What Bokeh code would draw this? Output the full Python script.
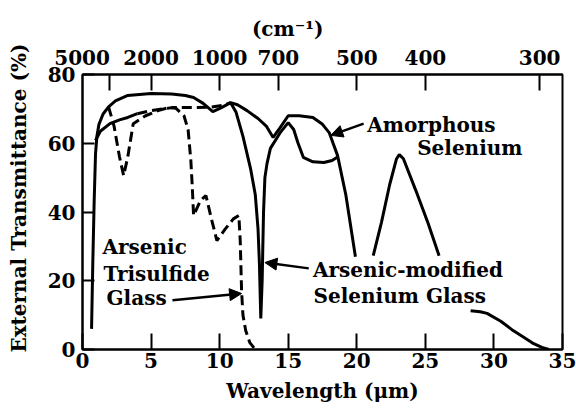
from bokeh.plotting import figure
from bokeh.models import (Range1d, LinearAxis, FixedTicker, Label, Arrow,
                          NormalHead)
from bokeh.embed import file_html
from bokeh.resources import INLINE

# ---------------- data ----------------
# Amorphous selenium (solid)
amorph_x = [0.66, 0.75, 0.85, 0.95, 1.05, 1.2, 1.5, 1.9, 2.4, 3.3, 5.0, 6.5,
            7.5, 8.1, 8.8, 9.5, 10.1, 10.8, 11.3, 12.0, 12.8, 13.4, 13.9, 14.4,
            15.0, 15.8, 16.8, 17.5, 18.0, 18.6, 19.2, 19.9]
amorph_y = [6, 25, 43, 57, 62, 65.5, 68.5, 70.6, 72.3, 73.9, 74.5, 74.3,
            73.9, 73.3, 71.6, 69.2, 70.3, 71.8, 71.2, 69.5, 67.2, 65, 61.7, 64.5,
            68, 68, 67.5, 65.5, 63, 56.4, 45, 27]

# Arsenic-modified selenium glass (solid start, dashed middle, solid end)
asse_start_x = [0.95, 1.3, 2.0, 2.7, 3.3, 4.0]
asse_start_y = [60.8, 63.5, 65.7, 66.8, 67.5, 68.6]
asse_mid_x = [4.0, 5.0, 6.6, 8.0, 9.3, 10.2, 10.8]
asse_mid_y = [68.6, 69.5, 70.4, 70.4, 70.5, 71.0, 71.8]
asse_end_x = [10.8, 11.2, 11.7, 12.25, 12.6, 12.8, 12.9, 13.0, 13.1, 13.2,
              13.3, 13.45, 13.7, 14.4, 15.0, 15.4, 15.7, 16.1, 16.8, 17.6,
              18.2, 18.6]
asse_end_y = [71.8, 69, 62, 52.7, 45, 35, 25, 9, 20, 40, 50, 54, 58.5, 63, 66,
              64, 60.2, 55.9, 54.6, 54.4, 55, 56]

# Far-infrared band (solid)
band_x = [21.2, 21.8, 22.4, 22.9, 23.1, 23.4, 24.3, 25.2, 26.0]
band_y = [27.3, 37, 48, 55.5, 56.7, 55.5, 46.3, 36.7, 27.3]
tail_x = [28.3, 29.0, 29.5, 30.5, 31.4, 32.2, 32.9, 33.5, 34.0]
tail_y = [11.3, 11.0, 10.5, 8.2, 5.5, 3.5, 1.7, 0.6, 0.0]

# Arsenic trisulfide glass (dashed)
as2s3_x = [1.9, 2.3, 2.7, 3.0, 3.3, 3.7, 4.6, 5.5, 6.3, 6.8, 7.4, 7.7, 7.9,
           8.0, 8.1, 8.6, 9.0, 9.4, 9.8, 10.4, 11.0, 11.4, 11.5, 11.6, 11.7,
           11.9, 12.2, 12.6]
as2s3_y = [70.6, 65, 56, 50.6, 56, 65.7, 68, 69.5, 70.4, 70.2, 68, 64, 55,
           47.7, 39, 43.3, 44.8, 38, 31.7, 35, 38, 39, 31.7, 17, 10, 5.5, 2, 0]

x_ticks = [0, 5, 10, 15, 20, 25, 30, 35]
y_ticks = [0, 20, 40, 60, 80]
wavenumbers = [5000, 2000, 1000, 700, 500, 400, 300]

FONT = "DejaVu Serif"
FS = "\u2007"  # figure space, used to offset a label from its anchor

# ---------------- figure ----------------
p = figure(width=576, height=413, output_backend="svg", toolbar_location=None,
           x_range=Range1d(0, 35), y_range=Range1d(0, 80),
           min_border_left=82, min_border_right=14, min_border_top=74,
           min_border_bottom=64)
p.grid.visible = False
p.outline_line_color = "black"
p.outline_line_width = 2
p.background_fill_color = "white"
p.border_fill_color = "white"


def style_axis(ax, tick_in, label_standoff, axis_standoff):
    ax.axis_line_width = 2
    ax.axis_line_color = "black"
    ax.major_tick_in = tick_in
    ax.major_tick_out = 0
    ax.major_tick_line_width = 2
    ax.minor_tick_line_color = None
    ax.major_label_text_font = FONT
    ax.major_label_text_font_style = "bold"
    ax.major_label_text_font_size = "20px"
    ax.major_label_text_color = "black"
    ax.major_label_standoff = label_standoff
    ax.axis_label_text_font = FONT
    ax.axis_label_text_font_style = "bold"
    ax.axis_label_text_font_size = "20px"
    ax.axis_label_text_color = "black"
    ax.axis_label_standoff = axis_standoff


xa = p.xaxis[0]
xa.ticker = FixedTicker(ticks=x_ticks)
xa.axis_label = "Wavelength (\u03bcm)"
style_axis(xa, 16, 3, 8)

ya = p.yaxis[0]
ya.ticker = FixedTicker(ticks=y_ticks)
ya.axis_label = FS * 2 + "External Transmittance (%)"
style_axis(ya, 12, 7, 14)

top_ticks = [1e4 / w for w in wavenumbers]
top = LinearAxis(ticker=FixedTicker(ticks=top_ticks))
top.major_label_overrides = {
    t: (str(w) + FS * 4 if w == 5000 else str(w))
    for t, w in zip(top_ticks, wavenumbers)}
top.axis_label = "(cm\u207b\u00b9)" + FS * 5
style_axis(top, 16, 5, 2)
p.add_layout(top, "above")

# ---------------- curves ----------------
LW = 3
DASH = "10 5"
p.line(amorph_x, amorph_y, line_color="black", line_width=LW)
p.line(asse_start_x, asse_start_y, line_color="black", line_width=LW)
p.line(asse_mid_x, asse_mid_y, line_color="black", line_width=LW,
       line_dash=DASH)
p.line(asse_end_x, asse_end_y, line_color="black", line_width=LW)
p.line(band_x, band_y, line_color="black", line_width=LW)
p.line(tail_x, tail_y, line_color="black", line_width=LW)
p.line(as2s3_x, as2s3_y, line_color="black", line_width=LW, line_dash=DASH)

# ---------------- texts ----------------
def lab(x, y, t, align="left", size="20px"):
    p.add_layout(Label(x=x, y=y, text=t, text_font=FONT,
                       text_font_style="bold", text_font_size=size,
                       text_align=align, text_baseline="middle",
                       text_color="black"))


lab(20.77, 65.2, "Amorphous")
lab(24.4, 58.5, "Selenium")
lab(16.8, 23.0, "Arsenic-modified")
lab(16.85, 15.7, "Selenium Glass")
lab(1.46, 29.7, "Arsenic")
lab(1.53, 22.1, "Trisulfide")
lab(1.75, 15.1, "Glass")

# arrows
for xs, ys, xe, ye in [(20.5, 65.7, 18.1, 62.3),
                       (16.5, 23.6, 13.3, 25.3),
                       (6.56, 14.3, 11.6, 16.3)]:
    p.add_layout(Arrow(end=NormalHead(size=12, fill_color="black",
                                      line_color="black", line_width=1),
                       x_start=xs, y_start=ys, x_end=xe, y_end=ye,
                       line_width=2.5, line_color="black"))

open("out.html", "w").write(file_html(p, INLINE))
